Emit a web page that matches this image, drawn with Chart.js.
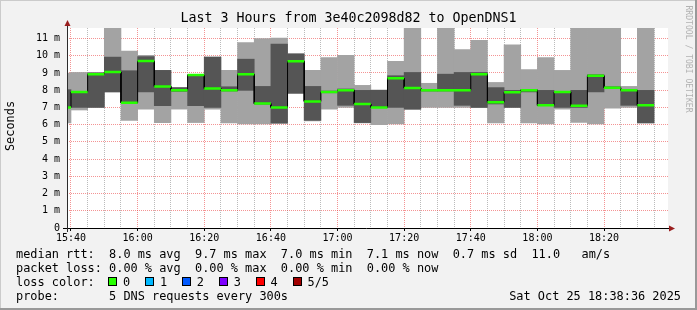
<!DOCTYPE html>
<html>
<head>
<meta charset="utf-8">
<script src="https://cdn.jsdelivr.net/npm/chart.js@4.4.1/dist/chart.umd.min.js"></script>
<style>
  body { margin: 0; background: #f2f2f2; }
  #wrap { position: relative; width: 697px; height: 310px; }
  #smoke { position: absolute; left: 0; top: 0; }
  .ln { position: absolute; left: 16px; height: 14px; line-height: 14px; font: 11.9px "DejaVu Sans Mono", monospace; white-space: pre; color: #000; }
  .box { position: absolute; top: 2px; width: 7px; height: 7px; border: 1px solid #000; }
  .lab { position: absolute; top: 0; }
</style>
</head>
<body>
<div id="wrap">
  <canvas id="smoke" width="697" height="310"></canvas>
  <div class="ln" id="rtt" style="top:247px"></div>
  <div class="ln" id="loss" style="top:261px"></div>
  <div class="ln" id="lcol" style="top:275px; width:400px"></div>
  <div class="ln" id="probe" style="top:289px"></div>
  <div class="ln" id="stamp" style="top:289px; left:auto; right:16px"></div>
</div>

<script type="text/javascript">
  // start of each 5 minute slot (first one is cut by the left edge)
  const times = ['15:35','15:40','15:45','15:50','15:55','16:00','16:05','16:10','16:15',
                 '16:20','16:25','16:30','16:35','16:40','16:45','16:50','16:55','17:00',
                 '17:05','17:10','17:15','17:20','17:25','17:30','17:35','17:40','17:45',
                 '17:50','17:55','18:00','18:05','18:10','18:15','18:20','18:25','18:30'];

  // 5 pings per slot, sorted: min, 2nd, median, 4th, max (ms)
  const pingMin    = [6.1, 6.85, 7.0, 7.9, 6.25, 6.9, 6.12, 6.9, 6.12,
                      6.9, 6.1, 6.04, 6.04, 6.05, 7.8, 6.22, 6.9, 7.0,
                      6.1, 6.0, 6.04, 6.88, 7.0, 7.0, 7.0, 6.98, 6.1,
                      7.0, 6.1, 6.04, 6.9, 6.13, 6.04, 6.95, 7.0, 6.1];
  const pingLow    = [7.0, 7.0, 7.0, 7.9, 7.25, 7.9, 7.1, 7.93, 7.1,
                      7.0, 7.95, 7.99, 7.2, 6.1, 7.83, 6.25, 7.85, 7.12,
                      6.12, 7.0, 7.0, 6.9, 7.95, 7.95, 7.12, 7.0, 7.2,
                      7.0, 7.9, 7.1, 7.0, 7.0, 7.9, 8.1, 7.12, 6.1];
  const pingMedian = [7.0, 7.9, 8.93, 9.05, 7.27, 9.69, 8.22, 8.0, 8.88,
                      8.1, 7.99, 8.93, 7.22, 7.0, 9.68, 7.35, 7.9, 8.0,
                      7.2, 7.0, 8.7, 8.12, 8.0, 8.0, 8.0, 8.93, 7.3,
                      7.88, 8.0, 7.12, 7.9, 7.1, 8.84, 8.14, 8.0, 7.12];
  const pingHigh   = [8.03, 7.93, 9.0, 9.92, 9.13, 9.95, 9.15, 8.15, 8.9,
                      9.92, 8.2, 9.8, 8.22, 10.67, 10.1, 8.22, 7.95, 8.07,
                      7.99, 8.0, 8.84, 9.03, 8.05, 8.93, 9.03, 9.03, 8.15,
                      7.99, 8.05, 7.99, 7.93, 7.99, 8.9, 8.2, 8.0, 7.99];
  const pingMax    = [9.0, 9.03, 9.03, 11.7, 10.27, 10.03, 9.15, 8.15, 8.9,
                      9.92, 9.15, 10.77, 11.0, 11.02, 10.13, 9.15, 9.9, 10.02,
                      8.28, 8.0, 9.67, 11.7, 8.4, 11.7, 10.36, 10.9, 8.45,
                      10.63, 9.2, 9.9, 9.15, 11.7, 11.7, 11.7, 8.22, 11.7];

  const timeTicks = ['15:40','16:00','16:20','16:40','17:00','17:20','17:40','18:00','18:20'];
  const msTicks = [0, 1, 2, 3, 4, 5, 6, 7, 8, 9, 10, 11];

  const title = 'Last 3 Hours from 3e40c2098d82 to OpenDNS1';
  const rttLine = 'median rtt:  8.0 ms avg  9.7 ms max  7.0 ms min  7.1 ms now  0.7 ms sd  11.0   am/s';
  const lossLine = 'packet loss: 0.00 % avg  0.00 % max  0.00 % min  0.00 % now';
  const probeLine = 'probe:       5 DNS requests every 300s';
  const stampLine = 'Sat Oct 25 18:38:36 2025';
  const lossLevels = ['0', '1', '2', '3', '4', '5/5'];
  const lossColors = ['#26ff00', '#00b8ff', '#0059ff', '#7e00ff', '#ff0000', '#a10000'];

  const STEP = 5;
  const T0 = 15 * 60 + 40;
  const toMin = s => { const p = s.split(':').map(Number); return p[0] * 60 + p[1] - T0; };
  const starts = times.map(toMin);
  const lastEnd = starts[starts.length - 1] + STEP;

  const lightBars = starts.map((s, i) => ({ x: s + STEP / 2, y: [pingMin[i], pingMax[i]] }));
  const darkBars = starts.map((s, i) => ({ x: s + STEP / 2, y: [pingLow[i], pingHigh[i]] }));
  const medStep = [];
  const medGreen = [];
  starts.forEach((s, i) => {
    medStep.push({ x: s, y: pingMedian[i] }, { x: s + STEP, y: pingMedian[i] });
    medGreen.push({ x: s, y: pingMedian[i] }, { x: s + STEP, y: pingMedian[i] }, { x: s + STEP, y: null });
  });

  const MONO = '"DejaVu Sans Mono", monospace';
  const majorGrid = 'rgba(235, 60, 60, 0.55)';
  const minorGrid = 'rgba(120, 120, 120, 0.5)';

  const decor = {
    id: 'decor',
    beforeDraw(chart) {
      const { ctx, chartArea: a, width, height } = chart;
      ctx.save();
      ctx.fillStyle = '#f2f2f2';
      ctx.fillRect(0, 0, width, height);
      ctx.fillStyle = '#ffffff';
      ctx.fillRect(a.left, a.top, a.right - a.left, a.bottom - a.top);
      ctx.restore();
    },
    afterDraw(chart) {
      const { ctx, chartArea: a, width, height } = chart;
      ctx.save();
      // axes
      ctx.lineWidth = 1;
      ctx.strokeStyle = '#000';
      ctx.beginPath();
      ctx.moveTo(a.left - 4, a.bottom + 0.5);
      ctx.lineTo(a.right + 2, a.bottom + 0.5);
      ctx.stroke();
      ctx.strokeStyle = '#2c2c2c';
      ctx.beginPath();
      ctx.moveTo(a.left + 0.5, a.bottom + 4);
      ctx.lineTo(a.left + 0.5, a.top - 3);
      ctx.stroke();
      // arrows
      ctx.fillStyle = '#9a1f1f';
      ctx.beginPath();
      ctx.moveTo(a.left + 0.5, a.top - 8);
      ctx.lineTo(a.left - 2.5, a.top - 2);
      ctx.lineTo(a.left + 3.5, a.top - 2);
      ctx.closePath();
      ctx.fill();
      ctx.beginPath();
      ctx.moveTo(a.right + 7, a.bottom + 0.5);
      ctx.lineTo(a.right + 1, a.bottom - 2.5);
      ctx.lineTo(a.right + 1, a.bottom + 3.5);
      ctx.closePath();
      ctx.fill();

      // title
      ctx.fillStyle = '#000';
      ctx.font = '13.3px ' + MONO;
      ctx.textAlign = 'center';
      ctx.textBaseline = 'middle';
      ctx.fillText(title, 348.5, 19);

      // axis title
      ctx.save();
      ctx.translate(11, 126);
      ctx.rotate(-Math.PI / 2);
      ctx.font = '11.9px ' + MONO;
      ctx.fillText('Seconds', 0, 0);
      ctx.restore();

      // side mark
      ctx.save();
      ctx.translate(688, 59);
      ctx.rotate(Math.PI / 2);
      ctx.font = '8.1px ' + MONO;
      ctx.fillStyle = '#b2b2b2';
      ctx.fillText('RRDTOOL / TOBI OETIKER', 0, 0);
      ctx.restore();

      // frame
      ctx.fillStyle = '#cbcbcb';
      ctx.fillRect(0, 0, width, 1);
      ctx.fillRect(0, 0, 1, height);
      ctx.fillStyle = '#999999';
      ctx.fillRect(0, height - 2, width, 2);
      ctx.fillRect(width - 2, 0, 2, height);
      ctx.restore();
    }
  };

  new Chart(document.getElementById('smoke'), {
    type: 'bar',
    data: {
      datasets: [
        { type: 'line', data: medGreen, borderColor: lossColors[0], borderWidth: 2.5,
          borderCapStyle: 'butt', pointRadius: 0, spanGaps: false, clip: 0, order: 0 },
        { type: 'line', data: medStep, borderColor: '#000', borderWidth: 1,
          pointRadius: 0, clip: 0, order: 1 },
        { data: darkBars, backgroundColor: '#555555', borderWidth: 0, grouped: false,
          barPercentage: 1, categoryPercentage: 1, clip: 0, order: 2 },
        { data: lightBars, backgroundColor: '#a3a3a3', borderWidth: 0, grouped: false,
          barPercentage: 1, categoryPercentage: 1, clip: 0, order: 3 }
      ]
    },
    options: {
      responsive: false,
      animation: false,
      events: [],
      layout: { padding: { left: 0, top: 28, right: 29, bottom: 62 } },
      plugins: { legend: { display: false }, tooltip: { enabled: false } },
      scales: {
        x: {
          type: 'linear',
          min: -1.2,
          max: 179.2,
          offset: false,
          z: 1,
          afterFit: s => { s.height = 20; },
          afterBuildTicks: s => {
            const t = [];
            for (let v = 0; v <= lastEnd; v += STEP) t.push({ value: v });
            s.ticks = t;
          },
          grid: {
            offset: false,
            color: c => (c.tick && c.tick.value % 20 === 0) ? majorGrid : minorGrid,
            drawTicks: true,
            tickLength: 3,
            tickColor: c => (c.tick && c.tick.value % 20 === 0) ? '#000' : 'rgba(0,0,0,0)'
          },
          border: { display: false, dash: [1, 1] },
          ticks: {
            autoSkip: false,
            maxRotation: 0,
            padding: 1,
            color: '#000',
            font: { family: MONO, size: 10 },
            callback: v => v % 20 === 0 ? (timeTicks[v / 20] || '') : ''
          }
        },
        y: {
          min: 0,
          max: 11.61,
          z: 1,
          afterFit: s => { s.width = 67; },
          afterBuildTicks: s => {
            const t = [];
            msTicks.forEach(v => { t.push({ value: v }, { value: v + 0.5 }); });
            s.ticks = t;
          },
          grid: {
            color: c => (c.tick && Number.isInteger(c.tick.value)) ? majorGrid : minorGrid,
            drawTicks: false
          },
          border: { display: false, dash: [1, 1] },
          ticks: {
            padding: 7,
            color: '#000',
            font: { family: MONO, size: 10 },
            callback: v => Number.isInteger(v) ? (v === 0 ? '0' : v + ' m') : ''
          }
        }
      }
    },
    plugins: [decor]
  });

  // legend block below the graph
  document.getElementById('rtt').textContent = rttLine;
  document.getElementById('loss').textContent = lossLine;
  document.getElementById('probe').textContent = probeLine;
  document.getElementById('stamp').textContent = stampLine;
  const lcol = document.getElementById('lcol');
  lcol.textContent = 'loss color:';
  lossLevels.forEach((lv, i) => {
    const left = 92 + i * 36.9;
    const b = document.createElement('span');
    b.className = 'box';
    b.style.left = left + 'px';
    b.style.background = lossColors[i];
    lcol.appendChild(b);
    const t = document.createElement('span');
    t.className = 'lab';
    t.style.left = (left + 15) + 'px';
    t.textContent = lv;
    lcol.appendChild(t);
  });
</script>
</body>
</html>
